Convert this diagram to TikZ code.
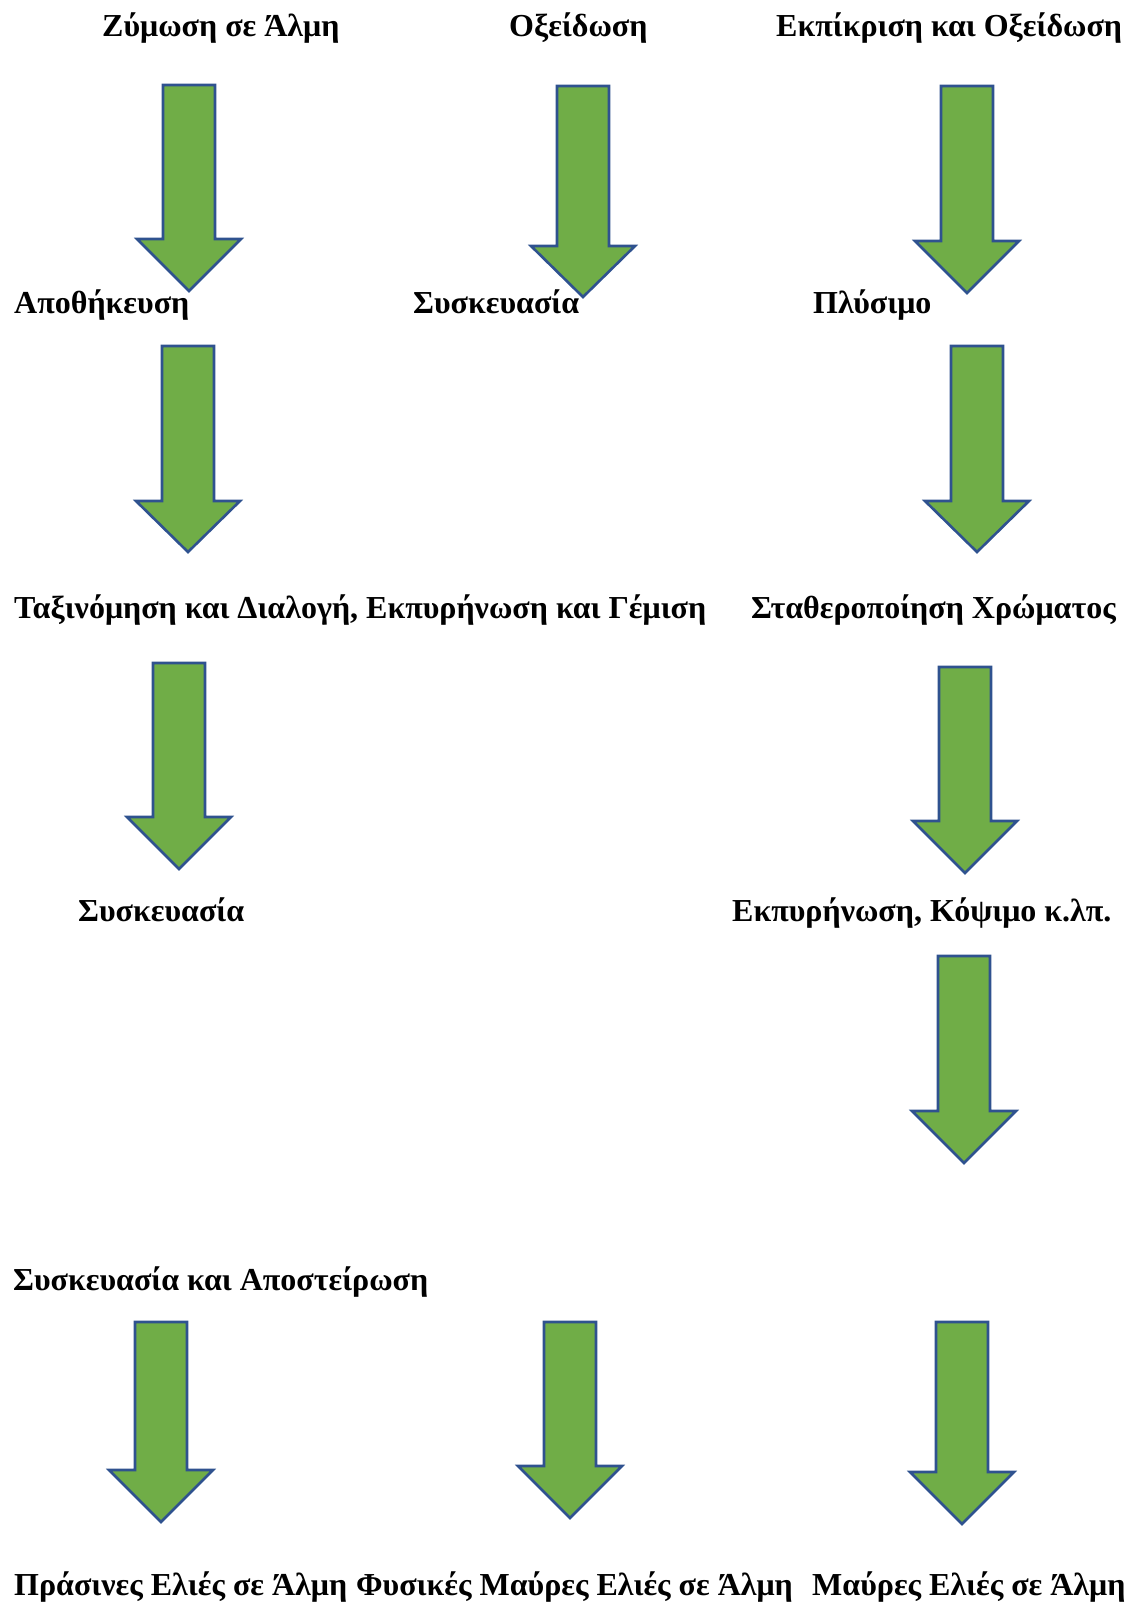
\documentclass[tikz,border=0pt]{standalone}
\usepackage{fontspec}
\setmainfont{Liberation Serif}
\definecolor{arrowfill}{HTML}{70AD47}
\definecolor{arrowline}{HTML}{2F528F}
\tikzset{
  blockarrow/.style={fill=arrowfill, draw=arrowline, line width=2.6pt, line join=miter},
  lbl/.style={inner sep=0pt, anchor=base west, font=\bfseries\fontsize{32}{38}\selectfont}
}
\newcommand\greenarrow[4]{% center x, top, shoulder, tip
  \draw[blockarrow] (#1-26,#2) -- (#1+26,#2) -- (#1+26,#3) -- (#1+52,#3) -- (#1,#4) -- (#1-52,#3) -- (#1-26,#3) -- cycle;}
\begin{document}
\begin{tikzpicture}[x=1pt,y=-1pt]
\useasboundingbox (0,0) rectangle (1128,1603);
% row 1
\node[lbl] (t1) at (102,37) {Ζύμωση σε Άλμη};
\node[lbl] (t2) at (509,37) {Οξείδωση};
\node[lbl] (t3) at (776,37) {Εκπίκριση και Οξείδωση};
\greenarrow{189}{85}{239}{291}
\greenarrow{583}{86}{246}{297}
\greenarrow{967}{86}{241}{293}
% row 2
\node[lbl] (t4) at (14,313) {Αποθήκευση};
\node[lbl] (t5) at (413,313) {Συσκευασία};
\node[lbl] (t6) at (813,313) {Πλύσιμο};
\greenarrow{188}{346}{501}{552}
\greenarrow{977}{346}{501}{552}
% row 3
\node[lbl] (t7) at (14,618) {Ταξινόμηση και Διαλογή, Εκπυρήνωση και Γέμιση};
\node[lbl] (t8) at (751,618) {Σταθεροποίηση Χρώματος};
\greenarrow{179}{663}{817}{869}
\greenarrow{965}{667}{821}{873}
% row 4
\node[lbl] (t9) at (78,921) {Συσκευασία};
\node[lbl] (t10) at (732,921) {Εκπυρήνωση, Κόψιμο κ.λπ.};
\greenarrow{964}{956}{1111}{1163}
% row 5
\node[lbl] (t11) at (13,1290) {Συσκευασία και Αποστείρωση};
\greenarrow{161}{1322}{1470}{1522}
\greenarrow{570}{1322}{1466}{1518}
\greenarrow{962}{1322}{1472}{1524}
% row 6
\node[lbl] (t12) at (14,1595) {Πράσινες Ελιές σε Άλμη};
\node[lbl] (t13) at (356,1595) {Φυσικές Μαύρες Ελιές σε Άλμη};
\node[lbl] (t14) at (812,1595) {Μαύρες Ελιές σε Άλμη};
\end{tikzpicture}
\end{document}
